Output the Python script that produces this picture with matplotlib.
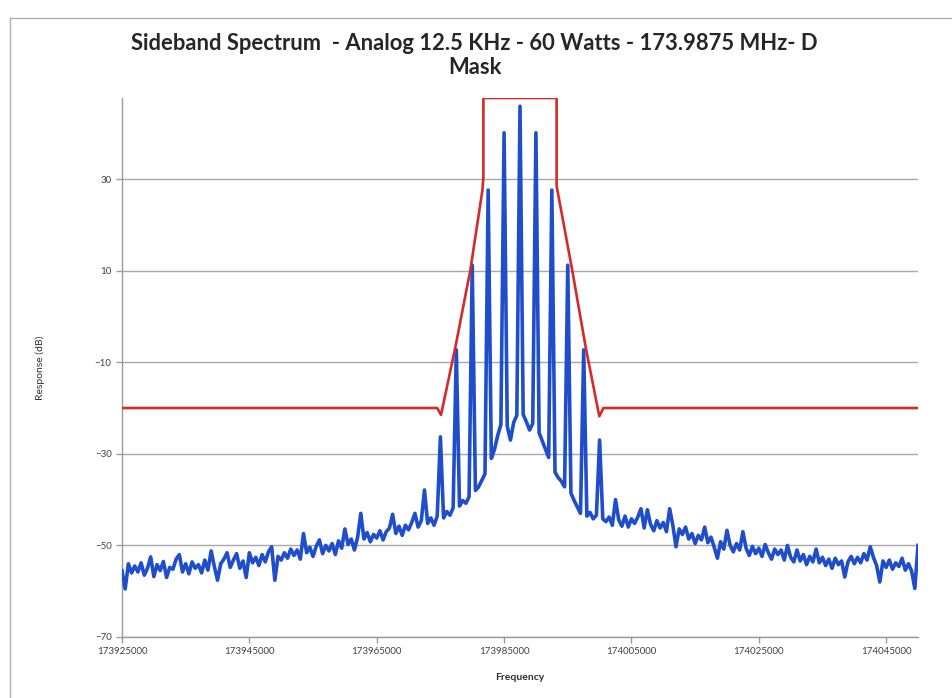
import numpy as np
import matplotlib
matplotlib.use('Agg')
import matplotlib.pyplot as plt
from matplotlib.lines import Line2D

plt.rcParams['font.family'] = ['Lato', 'DejaVu Sans']

# spectrum analyser trace, one reading every 500 Hz from 173925000 Hz
start_freq = 173925000
step_freq = 500
response_db = [
    -55.5, -59.5, -54.0, -56.0, -54.5, -55.8, -53.8, -56.5, -55.0, -52.5,
    -56.8, -54.2, -55.5, -53.5, -57.0, -54.8, -55.2, -53.0, -52.0, -55.8,
    -54.0, -56.2, -53.6, -55.0, -54.2, -56.0, -53.2, -55.4, -51.2, -54.6,
    -57.6, -54.0, -53.0, -51.6, -54.8, -53.2, -51.8, -55.0, -53.4, -57.0,
    -51.6, -53.8, -52.6, -54.4, -52.0, -53.6, -51.4, -50.3, -57.6, -52.4,
    -53.2, -51.6, -52.8, -50.8, -52.2, -51.0, -53.0, -47.4, -51.6, -50.4,
    -52.4, -50.2, -48.8, -51.8, -50.0, -51.2, -49.6, -52.0, -49.0, -50.6,
    -46.4, -49.8, -48.6, -51.0, -48.2, -43.0, -48.6, -47.2, -49.2, -47.6,
    -48.4, -46.8, -48.8, -47.0, -46.2, -43.2, -47.4, -45.8, -47.8, -45.6,
    -46.6, -45.0, -43.0, -46.0, -44.6, -37.9, -45.2, -44.0, -45.6, -43.6,
    -26.3, -44.0, -42.6, -43.4, -41.8, -7.3, -41.4, -40.2, -40.8, -39.4,
    11.2, -38.0, -37.2, -35.8, -34.4, 27.6, -31.0, -29.0, -26.0, -23.6,
    40.1, -24.0, -27.0, -23.2, -21.6, 45.9, -21.4, -23.0, -24.8, -23.4,
    40.1, -25.4, -27.2, -29.0, -30.8, 27.6, -34.0, -35.2, -36.0, -37.2,
    11.2, -38.6, -40.2, -41.6, -43.0, -7.3, -43.6, -42.8, -44.2, -43.4,
    -27.0, -44.2, -44.8, -43.8, -45.6, -40.0, -44.4, -45.8, -43.6, -46.0,
    -44.2, -45.2, -43.8, -42.0, -46.2, -42.2, -45.4, -46.8, -44.6, -46.2,
    -45.0, -47.0, -42.0, -45.6, -50.3, -46.4, -47.6, -46.0, -48.6, -47.4,
    -49.6, -47.8, -48.8, -46.0, -49.4, -48.2, -50.4, -52.8, -49.2, -50.8,
    -46.7, -50.0, -51.4, -49.6, -51.0, -47.0, -50.6, -52.2, -50.2, -51.8,
    -50.6, -52.4, -49.8, -51.6, -53.0, -50.8, -52.0, -51.0, -53.2, -50.0,
    -52.6, -53.6, -51.0, -53.4, -52.0, -54.2, -52.4, -53.6, -50.8, -53.8,
    -52.6, -54.4, -53.0, -55.0, -52.8, -54.2, -53.4, -56.9, -53.6, -52.4,
    -54.0, -52.6, -53.8, -51.8, -53.2, -50.3, -52.6, -54.4, -58.0, -53.4,
    -54.8, -53.2, -55.2, -53.8, -54.6, -52.8, -55.4, -54.0, -55.6, -59.4,
    -50.0,
]
freqs = start_freq + step_freq * np.arange(len(response_db))

# emission mask (D mask)
mask_freq = [173925000, 173974500, 173975100, 173977350, 173979700, 173981600,
             173981750, 173981750, 173993250, 173993250, 173995700, 173997800,
             173999950, 174000600, 174050000]
mask_db = [-20, -20, -21.5, -6.7, 10.1, 27.6, 30.5, 47.7, 47.7, 28.5, 10.1, -6.6,
           -21.8, -20, -20]

x_ticks = [173925000, 173945000, 173965000, 173985000, 174005000, 174025000, 174045000]
y_ticks = [-70, -50, -30, -10, 10, 30]

fig = plt.figure(figsize=(9.53, 6.98), dpi=100)
ax = fig.add_axes([122 / 953, 1 - 637 / 698, (918 - 122) / 953, (637 - 98) / 698])

ax.plot(freqs, response_db, color='#1F4ECB', lw=2.6, zorder=3)
ax.plot(mask_freq, mask_db, color='#D42A2A', lw=1.9, zorder=4)

ax.set_xlim(173925000, 174050000)
ax.set_ylim(-70, 47.7)
ax.set_xticks(x_ticks)
ax.set_xticklabels([str(t) for t in x_ticks])
ax.set_yticks(y_ticks)
ax.grid(axis='y', color='#A8A8A8', lw=1.0)
ax.set_axisbelow(True)
for s in ['top', 'right']:
    ax.spines[s].set_visible(False)
for s in ['left', 'bottom']:
    ax.spines[s].set_color('#9A9A9A')
    ax.spines[s].set_linewidth(1.0)
ax.tick_params(axis='both', colors='#9A9A9A', length=4, width=1, labelsize=7,
               labelcolor='#404040')

ax.set_xlabel('Frequency', fontsize=7.5, fontweight='bold', color='#303030', labelpad=12)
ax.set_ylabel('Response (dB)', fontsize=7.5, color='#303030', labelpad=36)

fig.text(0.498, 1 - 43 / 698, 'Sideband Spectrum  - Analog 12.5 KHz - 60 Watts - 173.9875 MHz- D',
         ha='center', va='center', fontsize=15.8, fontweight='bold', color='#262626')
fig.text(0.498, 1 - 67 / 698, 'Mask', ha='center', va='center', fontsize=15.8,
         fontweight='bold', color='#262626')

# chart area border
fig.add_artist(Line2D([10 / 953, 10 / 953], [0, 1 - 18 / 698], color='#B0B0B0', lw=1.0))
fig.add_artist(Line2D([10 / 953, 1], [1 - 18 / 698, 1 - 18 / 698], color='#B0B0B0', lw=1.0))

fig.savefig('out.png', dpi=100)
